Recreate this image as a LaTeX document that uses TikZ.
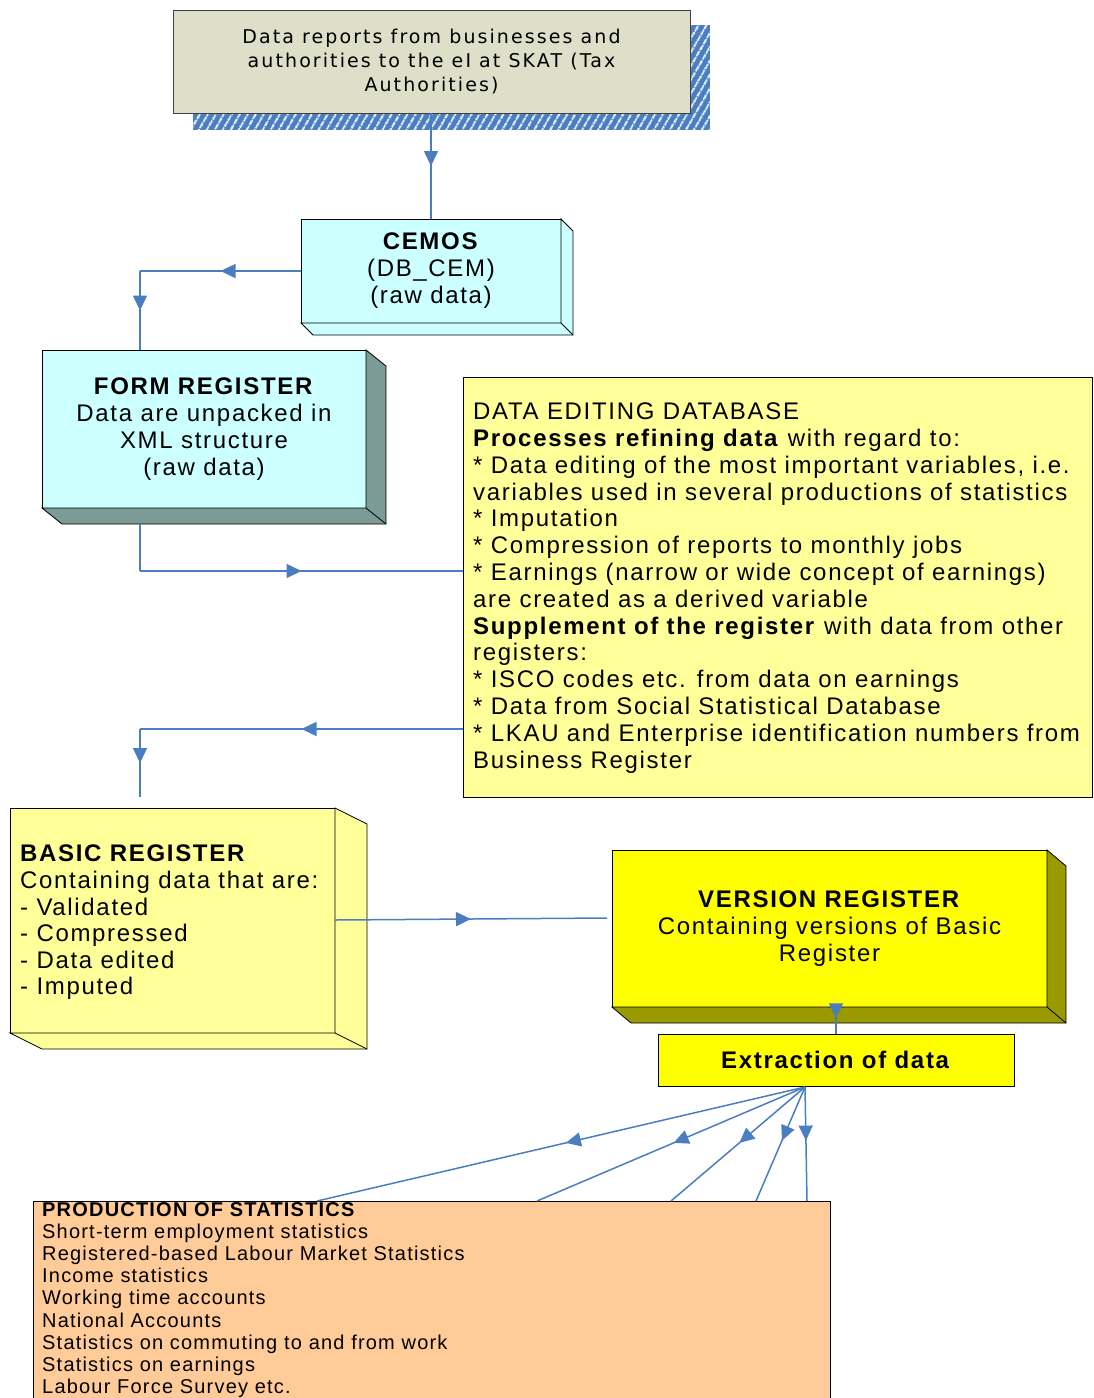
\documentclass[tikz,border=0pt]{standalone}
\usepackage{fontspec}
\setmainfont{Liberation Sans}[LetterSpace=7]
\newfontfamily\topfont{DejaVu Sans}[LetterSpace=11]
\newfontfamily\prodfont{Liberation Sans}[LetterSpace=6]
\usetikzlibrary{arrows.meta,decorations.markings,patterns.meta}
\definecolor{flowblue}{RGB}{74,126,192}
\definecolor{topfill}{RGB}{221,223,201}
\definecolor{cyanfill}{RGB}{204,255,255}
\definecolor{tealside}{RGB}{124,155,150}
\definecolor{paleyellow}{RGB}{255,255,153}
\definecolor{brightyellow}{RGB}{255,255,0}
\definecolor{oliveside}{RGB}{153,153,0}
\definecolor{peach}{RGB}{255,204,153}
\newcommand\boxside[4]{%
  \filldraw[fill=#4,draw=black,line width=0.8pt] (#1.north east) -- ++(#2,#3)
    -- ([shift={(#2,#3)}]#1.south east) -- ([shift={(#2,#3)}]#1.south west)
    -- (#1.south west) -- (#1.south east) -- cycle;
  \draw[line width=0.8pt] (#1.south east) -- ++(#2,#3);
}
\tikzset{
  boxnode/.style={draw=black,line width=0.8pt,inner sep=0pt,outer sep=0pt,align=center,
    font=\fontsize{24}{27}\selectfont},
  flowline/.style={draw=flowblue,line width=1.5pt},
  flowarrow/.style={draw=flowblue,line width=1.5pt,postaction={decorate},
    decoration={markings,mark=at position #1 with {\arrow[flowblue]{Triangle[length=15pt,width=14pt]}}}},
  flowarrow/.default=0.5
}
\begin{document}
\begin{tikzpicture}[x=1pt,y=-1pt]
\clip (0,0) rectangle (1093,1398);
\fill[white] (0,0) rectangle (1093,1398);

% top box with hatched shadow
\fill[flowblue] (193,25) rectangle (710,130);
\fill[pattern={Lines[angle=60,distance=6.5pt,line width=1.8pt]},pattern color=white] (193,25) rectangle (710,130);
\node[boxnode,draw=black!75,fill=topfill,minimum width=517,minimum height=103,
  font=\topfont\fontsize{19}{24}\selectfont] (top) at (431.5,61.5)
  {Data reports from businesses and\\authorities to the eI at SKAT (Tax\\Authorities)};

% CEMOS
\node[boxnode,fill=cyanfill,minimum width=260,minimum height=104] (cemos) at (431,271)
  {\textbf{CEMOS}\\(DB\_CEM)\\(raw data)};
\boxside{cemos}{12}{12}{cyanfill}

% FORM REGISTER
\node[boxnode,fill=cyanfill,minimum width=324,minimum height=158] (form) at (204,429)
  {\textbf{FORM REGISTER}\\Data are unpacked in\\XML structure\\(raw data)};
\boxside{form}{20}{16}{tealside}

% DATA EDITING DATABASE
\node[boxnode,fill=paleyellow,minimum width=629,minimum height=420] (de) at (777.5,587) {};
\node[anchor=west,align=left,inner sep=0pt,font=\fontsize{24}{26.8}\selectfont] (detext)
  at ([xshift=10pt,yshift=-1pt]de.west)
  {DATA EDITING DATABASE\\
   \textbf{Processes refining data} with regard to:\\
   * Data editing of the most important variables, i.e.\\
   variables used in several productions of statistics\\
   * Imputation\\
   * Compression of reports to monthly jobs\\
   * Earnings (narrow or wide concept of earnings)\\
   are created as a derived variable\\
   \textbf{Supplement of the register} with data from other\\
   registers:\\
   * ISCO codes etc. from data on earnings\\
   * Data from Social Statistical Database\\
   * LKAU and Enterprise identification numbers from\\
   Business Register};

% BASIC REGISTER
\node[boxnode,fill=paleyellow,minimum width=325,minimum height=225] (basic) at (172.5,920.5) {};
\boxside{basic}{32}{16}{paleyellow}
\node[anchor=west,align=left,inner sep=0pt,font=\fontsize{24}{26.6}\selectfont] (basictext)
  at ([xshift=10pt,yshift=-2pt]basic.west)
  {\textbf{BASIC REGISTER}\\Containing data that are:\\- Validated\\- Compressed\\- Data edited\\- Imputed};

% VERSION REGISTER
\node[boxnode,fill=brightyellow,minimum width=435,minimum height=157] (version) at (829.5,928.5)
  {\textbf{VERSION REGISTER}\\Containing versions of Basic\\Register};
\boxside{version}{19}{16}{oliveside}

% Extraction
\node[boxnode,fill=brightyellow,minimum width=356,minimum height=52] (ext) at (836,1060)
  {\textbf{Extraction of data}};

% PRODUCTION
\node[boxnode,fill=peach,minimum width=797,minimum height=209] (prod) at (431.5,1305.5) {};
\node[anchor=north west,align=left,inner sep=0pt,font=\prodfont\fontsize{20}{22.2}\selectfont] (prodtext)
  at (42,1202)
  {\textbf{PRODUCTION OF STATISTICS}\\
   Short-term employment statistics\\
   Registered-based Labour Market Statistics\\
   Income statistics\\
   Working time accounts\\
   National Accounts\\
   Statistics on commuting to and from work\\
   Statistics on earnings\\
   Labour Force Survey etc.};

% coordinates
\coordinate (c1) at (140,271);
\coordinate (c2) at (140,571);
\coordinate (formB) at (140,524);
\coordinate (c3) at (140,729);
\coordinate (c4) at (140,797);
\coordinate (b1) at (335,920);
\coordinate (b2) at (607,918);
\coordinate (fs) at (805,1087);
\coordinate (f1) at (317,1201);
\coordinate (f2) at (537,1201);
\coordinate (f3) at (671,1201);
\coordinate (f4) at (756,1201);
\coordinate (f5) at (807,1201);

% connectors
\draw[flowarrow] (top.south -| cemos.north) -- (cemos.north);
\draw[flowarrow] (cemos.west) -- (c1);
\draw[flowarrow] (c1) -- (c1 |- form.north);
\draw[flowline] (formB) -- (c2);
\draw[flowarrow] (c2) -- (de.west |- c2);
\draw[flowarrow] (de.west |- c3) -- (c3);
\draw[flowarrow] (c3) -- (c4);
\draw[flowarrow] (b1) -- (b2);
\draw[flowarrow=0.42] (ext.north |- version.south) -- (ext.north);
\draw[flowarrow=0.49] (fs) -- (f1);
\draw[flowarrow=0.49] (fs) -- (f2);
\draw[flowarrow=0.49] (fs) -- (f3);
\draw[flowarrow=0.47] (fs) -- (f4);
\draw[flowarrow=0.47] (fs) -- (f5);
\end{tikzpicture}
\end{document}
